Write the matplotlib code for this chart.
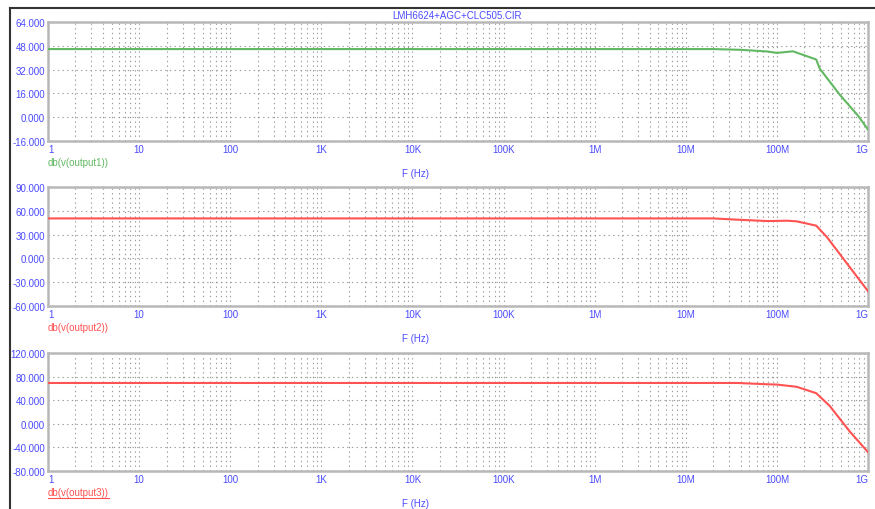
import numpy as np
import matplotlib
matplotlib.use("Agg")
from matplotlib import pyplot as plt
from matplotlib import ticker
from matplotlib.lines import Line2D

# x positions are frequencies in Hz, values in dB
freq1 = [1, 2e7, 4e7, 7.8e7, 1e8, 1.5e8, 2.7e8, 2.95e8, 4.9e8, 7.8e8, 1e9]
db1 = [45.8, 45.8, 45.3, 44.2, 43.2, 44.3, 38.8, 32.7, 15.1, 0.9, -8.3]

freq2 = [1, 2e7, 3.7e7, 7.8e7, 1.3e8, 1.65e8, 2.7e8, 3.55e8, 5.9e8, 1e9]
db2 = [50.4, 50.4, 48.8, 47.1, 47.5, 46.7, 41.3, 26.7, -6.7, -41.3]

freq3 = [1, 3.7e7, 7.8e7, 1e8, 1.65e8, 2.7e8, 3.8e8, 6.3e8, 1e9]
db3 = [69.2, 69.2, 67.0, 66.5, 62.7, 51.9, 30.3, -13.0, -48.0]

yticks1 = [-16, 0, 16, 32, 48, 64]
yticks2 = [-60, -30, 0, 30, 60, 90]
yticks3 = [-80, -40, 0, 40, 80, 120]

xtick_vals = [1, 10, 100, 1e3, 1e4, 1e5, 1e6, 1e7, 1e8, 1e9]
xtick_labels = ["1", "10", "100", "1K", "10K", "100K", "1M", "10M", "100M", "1G"]

title = "LMH6624+AGC+CLC505.CIR"
traces = ["db(v(output1))", "db(v(output2))", "db(v(output3))"]

BLUE = "#4a4aff"
GREEN = "#62b862"
RED = "#ff5252"
GRID = "#999999"
FRAME = "#b8b8b8"

plt.rcParams['font.family'] = ['Liberation Sans', 'DejaVu Sans']

fig = plt.figure(figsize=(8.75, 5.1), dpi=100, facecolor="white")

left, width = 48 / 875, 820 / 875
boxes = [(23, 142), (188, 307), (354, 472)]
series = [(freq1, db1, yticks1, GREEN), (freq2, db2, yticks2, RED), (freq3, db3, yticks3, RED)]

label_texts = []
for (top, bot), (f, d, yt, col), name in zip(boxes, series, traces):
    ax = fig.add_axes([left, 1 - bot / 510, width, (bot - top) / 510])
    ax.set_xscale("log")
    ax.set_xlim(1, 1e9)
    ax.set_ylim(yt[0], yt[-1])
    ax.plot(f, d, color=col, lw=1.5, zorder=3)

    ax.set_yticks(yt)
    ax.yaxis.set_major_formatter(ticker.FormatStrFormatter("%.3f"))
    ax.set_xticks(xtick_vals)
    ax.set_xticklabels(xtick_labels)
    ax.xaxis.set_minor_locator(ticker.LogLocator(base=10, subs=np.arange(2, 10), numticks=100))
    ax.xaxis.set_minor_formatter(ticker.NullFormatter())
    ax.tick_params(which="both", length=0, labelsize=7, labelcolor=BLUE, pad=2)
    xl = ax.get_xticklabels()
    xl[0].set_ha("left")
    xl[-1].set_ha("right")

    ax.grid(True, which="both", axis="x", color=GRID, lw=0.8, ls=(0, (1.2, 3)))
    ax.grid(True, which="major", axis="y", color=GRID, lw=0.8, ls=(0, (1.2, 3)))
    for sp in ax.spines.values():
        sp.set_color(FRAME)
        sp.set_linewidth(1.8)

    t = fig.text(left, 1 - (bot + 21) / 510, name, color=col, fontsize=7, ha="left", va="center")
    label_texts.append(t)
    fig.text(415 / 875, 1 - (bot + 32) / 510, "F (Hz)", color=BLUE, fontsize=7, ha="center", va="center")

fig.text(457 / 875, 1 - 16 / 510, title, color=BLUE, fontsize=7, ha="center", va="center")

# underline the active trace name
fig.canvas.draw()
bb = label_texts[2].get_window_extent().transformed(fig.transFigure.inverted())
fig.add_artist(Line2D([bb.x0, bb.x1], [bb.y0 - 0.002, bb.y0 - 0.002], color=RED, lw=0.8))

# outer frame (top and left edge)
fig.add_artist(Line2D([10 / 875, 10 / 875], [0, 1 - 9 / 510], color="#333333", lw=1.5))
fig.add_artist(Line2D([10 / 875, 1], [1 - 9 / 510, 1 - 9 / 510], color="#333333", lw=1.5))

fig.savefig("out.png", dpi=100, facecolor="white")
